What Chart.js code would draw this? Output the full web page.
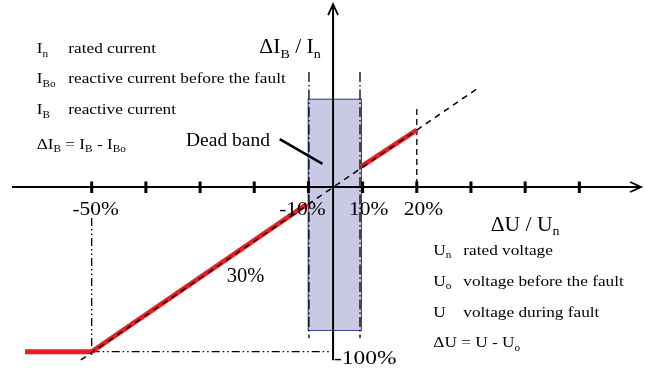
<!DOCTYPE html>
<html>
<head>
<meta charset="utf-8">
<script src="https://cdn.jsdelivr.net/npm/chart.js@4"></script>
<style>
  html, body { margin: 0; padding: 0; background: #fff; }
  canvas { display: block; }
</style>
</head>
<body>
<canvas id="myChart" width="646" height="370"></canvas>
<script>
// Voltage axis is schematic: one slot per tick mark (dead band squeezed into one slot)
const tickSlots = [0, 1, 2, 3, 4, 5, 6, 7, 8, 9];
const tickLabels = ['-50%', '', '', '', '-10%', '10%', '20%', '', '', ''];
const zeroSlot = 4.455; // where dU = 0 sits (the vertical axis)

// Reactive current characteristic, x = slot, y = dIB/In in %
const limitLine = [{ x: -1.23, y: -100 }, { x: 0, y: -100 }];
const lowerRamp = [{ x: 0, y: -100 }, { x: 3.97, y: -10.5 }];
const upperRamp = [{ x: 4.97, y: 12.3 }, { x: 6, y: 34.6 }];
const slopeLine = [{ x: -0.2, y: -105 }, { x: 7.15, y: 60.5 }];

// Dead band box and guide lines
const deadBand = { x: [3.987, 4.97], y: [-86.8, 53.6] };
const guideMinus50 = [{ x: 0, y: -18.8 }, { x: 0, y: -103.6 }];
const guideMinus10 = [{ x: 4.01, y: 69.8 }, { x: 4.01, y: -91.8 }];
const guidePlus10 = [{ x: 4.952, y: 69.8 }, { x: 4.952, y: -91.8 }];
const guidePlus20 = [{ x: 6, y: 47.4 }, { x: 6, y: 0 }];
const guideFloor = [{ x: 0, y: -100 }, { x: 4.4, y: -100 }];
const pointer = [{ x: 3.47, y: 29.1 }, { x: 4.26, y: 14.0 }];

// Legend texts
const currentSymbols = [
  [['I', 0], ['n', 1]],
  [['I', 0], ['Bo', 1]],
  [['I', 0], ['B', 1]],
  [['ΔI', 0], ['B', 1], [' = I', 0], ['B', 1], [' - I', 0], ['Bo', 1]]
];
const currentDesc = ['rated current', 'reactive current before the fault', 'reactive current', ''];
const voltageSymbols = [
  [['U', 0], ['n', 1]],
  [['U', 0], ['o', 1]],
  [['U', 0]],
  [['ΔU = U - U', 0], ['o', 1]]
];
const voltageDesc = ['rated voltage', 'voltage before the fault', 'voltage during fault', ''];

const FONT = '"Liberation Serif", "Times New Roman", serif';

function drawRich(ctx, parts, x, y, size, stretch) {
  ctx.save();
  ctx.translate(x, y);
  ctx.scale(stretch, 1);
  ctx.fillStyle = '#000';
  ctx.textBaseline = 'alphabetic';
  ctx.textAlign = 'left';
  let cx = 0;
  for (const [t, sub] of parts) {
    const s = sub ? size * 0.65 : size;
    ctx.font = s + 'px ' + FONT;
    ctx.fillText(t, cx, sub ? size * 0.22 : 0);
    cx += ctx.measureText(t).width;
  }
  ctx.restore();
}

function seg(data, color, width, dash) {
  return {
    data: data,
    showLine: true,
    borderColor: color,
    borderWidth: width,
    borderDash: dash || [],
    pointRadius: 0,
    fill: false
  };
}

// box behind everything, axes + texts on top
const diagramPlugin = {
  id: 'diagram',
  beforeDatasetsDraw(chart) {
    const { ctx, scales: { x, y } } = chart;
    const l = x.getPixelForValue(deadBand.x[0]), r = x.getPixelForValue(deadBand.x[1]);
    const t = y.getPixelForValue(deadBand.y[1]), b = y.getPixelForValue(deadBand.y[0]);
    ctx.save();
    ctx.fillStyle = '#c9c9e3';
    ctx.fillRect(l, t, r - l, b - t);
    ctx.strokeStyle = '#3b3b94';
    ctx.lineWidth = 1;
    ctx.strokeRect(l + 0.5, t + 0.5, r - l, b - t);

    // axes
    ctx.strokeStyle = '#000';
    ctx.lineWidth = 2;
    const y0 = y.getPixelForValue(0), x0 = x.getPixelForValue(zeroSlot);
    const xEnd = x.getPixelForValue(10.14), yTop = y.getPixelForValue(111);
    ctx.beginPath();
    ctx.moveTo(x.getPixelForValue(-1.47), y0);
    ctx.lineTo(xEnd, y0);
    ctx.moveTo(x0, y.getPixelForValue(-105.2));
    ctx.lineTo(x0, yTop);
    ctx.stroke();
    ctx.lineWidth = 1.8;
    ctx.beginPath();
    ctx.moveTo(xEnd - 11, y0 - 5); ctx.lineTo(xEnd, y0); ctx.lineTo(xEnd - 11, y0 + 5);
    ctx.moveTo(x0 - 5, yTop + 11); ctx.lineTo(x0, yTop); ctx.lineTo(x0 + 5, yTop + 11);
    ctx.stroke();
    ctx.lineWidth = 3;
    ctx.beginPath();
    tickSlots.forEach(s => {
      const px = x.getPixelForValue(s);
      ctx.moveTo(px, y.getPixelForValue(3.4));
      ctx.lineTo(px, y.getPixelForValue(-3.6));
    });
    ctx.stroke();
    ctx.restore();
  },
  afterDatasetsDraw(chart) {
    const { ctx, scales: { x } } = chart;
    // tick labels
    const labelShift = [4, 0, 0, 0, -6, 6, 6.6, 0, 0, 0];
    ctx.save();
    ctx.font = '19px ' + FONT;
    tickLabels.forEach((lab, i) => {
      if (!lab) return;
      const w = ctx.measureText(lab).width * 1.13;
      const cx = x.getPixelForValue(tickSlots[i]) + labelShift[i];
      drawRich(ctx, [[lab, 0]], cx - w / 2, 214.5, 19, 1.13);
    });
    ctx.restore();

    // axis titles and notes
    drawRich(ctx, [['ΔI', 0], ['B', 1], [' / I', 0], ['n', 1]], 259.3, 53.3, 20, 1.08);
    drawRich(ctx, [['ΔU / U', 0], ['n', 1]], 490.7, 231, 20, 1.08);
    drawRich(ctx, [['Dead band', 0]], 186, 146, 19.5, 1);
    drawRich(ctx, [['30%', 0]], 226.7, 282.3, 20.5, 1);
    drawRich(ctx, [['-100%', 0]], 334, 364, 19.5, 1.2);

    const lb = [53.3, 83.3, 114.3, 148.5];
    currentSymbols.forEach((p, i) => {
      drawRich(ctx, p, 36.7, lb[i], 15, 1.15);
      if (currentDesc[i]) drawRich(ctx, [[currentDesc[i], 0]], 68.3, lb[i], 15, 1.15);
    });
    const rb = [255, 285.7, 316.7, 347.3];
    voltageSymbols.forEach((p, i) => {
      drawRich(ctx, p, 433.3, rb[i], 15, 1.15);
      if (voltageDesc[i]) drawRich(ctx, [[voltageDesc[i], 0]], 463.3, rb[i], 15, 1.15);
    });
  }
};

// dataset 0 is painted last (on top), so the dashed slope comes first
const ctx = document.getElementById('myChart').getContext('2d');
new Chart(ctx, {
  type: 'scatter',
  data: {
    datasets: [
      seg(slopeLine, '#000', 1.5, [6, 5]),
      seg(pointer, '#000', 2.5),
      seg(limitLine, '#ed1c24', 5),
      seg(lowerRamp, '#ed1c24', 5),
      seg(upperRamp, '#ed1c24', 5),
      seg(guideMinus50, '#000', 1.3, [8, 3, 1.5, 3, 1.5, 3]),
      seg(guideMinus10, '#000', 1.3, [10, 3, 1.5, 3]),
      seg(guidePlus10, '#000', 1.3, [10, 3, 1.5, 3]),
      seg(guidePlus20, '#000', 1.3, [6, 4]),
      seg(guideFloor, '#000', 1.3, [8, 3, 1.5, 3, 1.5, 3])
    ]
  },
  options: {
    responsive: false,
    animation: false,
    events: [],
    layout: { padding: 0 },
    plugins: { legend: { display: false }, tooltip: { enabled: false } },
    scales: {
      x: { type: 'linear', min: -1.6925, max: 10.2307, display: false },
      y: { type: 'linear', min: -111.11, max: 113.54, display: false }
    }
  },
  plugins: [diagramPlugin]
});
</script>
</body>
</html>
